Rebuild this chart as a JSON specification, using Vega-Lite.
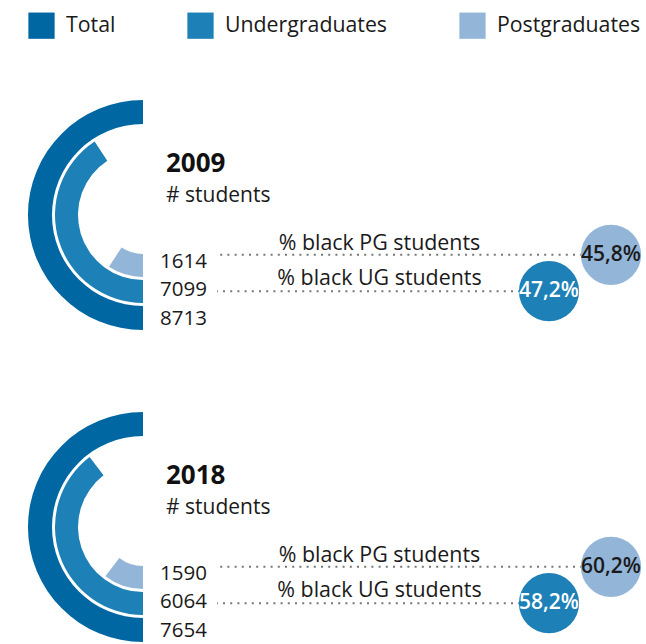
{
  "$schema": "https://vega.github.io/schema/vega-lite/v6.json",
  "padding": {"top": 12, "left": 0, "right": 0, "bottom": 0},
  "background": "white",
  "config": {
    "view": {"stroke": null},
    "font": "Open Sans",
    "locale": {"number": {"decimal": ",", "thousands": ".", "grouping": [3], "currency": ["", " €"]}},
    "legend": {
      "orient": "none", "legendX": 28, "legendY": -88, "direction": "horizontal",
      "symbolType": "square", "symbolSize": 690, "symbolStrokeWidth": 0, "symbolOpacity": 1,
      "labelFont": "Open Sans", "labelFontSize": 21.3, "labelColor": "#1a1a1a", "labelOffset": 11,
      "labelLimit": 300, "columnPadding": 71, "title": null
    }
  },
  "data": {"values": [
    {"year": 2009, "category": "Total", "count": 8713},
    {"year": 2009, "category": "Undergraduates", "count": 7099, "pct": 0.472, "metric": "% black UG students"},
    {"year": 2009, "category": "Postgraduates", "count": 1614, "pct": 0.458, "metric": "% black PG students"},
    {"year": 2018, "category": "Total", "count": 7654},
    {"year": 2018, "category": "Undergraduates", "count": 6064, "pct": 0.582, "metric": "% black UG students"},
    {"year": 2018, "category": "Postgraduates", "count": 1590, "pct": 0.602, "metric": "% black PG students"}
  ]},
  "facet": {"row": {"field": "year", "type": "ordinal", "header": {"labels": false, "title": null}}},
  "spacing": 82,
  "resolve": {"scale": {"theta": "independent"}},
  "spec": {
    "width": 286,
    "height": 230,
    "resolve": {"scale": {"x": "independent", "y": "independent"}},
    "layer": [
      {
        "transform": [{"filter": "datum.category === 'Total'"}],
        "mark": {"type": "arc", "radius": 115, "radius2": 91},
        "encoding": {
          "theta": {"field": "count", "type": "quantitative", "stack": null,
            "scale": {"zero": true, "nice": false, "range": [3.141592653589793, 6.283185307179586]}},
          "theta2": {"datum": 0},
          "color": {"field": "category", "type": "nominal",
            "scale": {"domain": ["Total", "Undergraduates", "Postgraduates"], "range": ["#0067a3", "#1d80b6", "#93b6d8"]}}
        }
      },
      {
        "transform": [{"filter": "datum.category === 'Undergraduates'"}],
        "mark": {"type": "arc", "radius": 88, "radius2": 65},
        "encoding": {
          "theta": {"field": "count", "type": "quantitative", "stack": null},
          "theta2": {"datum": 0},
          "color": {"field": "category", "type": "nominal"}
        }
      },
      {
        "transform": [{"filter": "datum.category === 'Postgraduates'"}],
        "mark": {"type": "arc", "radius": 62, "radius2": 39},
        "encoding": {
          "theta": {"field": "count", "type": "quantitative", "stack": null},
          "theta2": {"datum": 0},
          "color": {"field": "category", "type": "nominal"}
        }
      },
      {
        "transform": [{"filter": "datum.category === 'Total'"}],
        "mark": {"type": "text", "align": "left", "baseline": "alphabetic", "fontSize": 26, "fontWeight": "bold", "color": "#111"},
        "encoding": {
          "text": {"field": "year", "type": "nominal"},
          "x": {"value": 166},
          "y": {"value": 72}
        }
      },
      {
        "transform": [{"filter": "datum.category === 'Total'"}],
        "mark": {"type": "text", "align": "left", "baseline": "alphabetic", "fontSize": 21, "color": "#1a1a1a", "text": "# students"},
        "encoding": {
          "x": {"value": 166},
          "y": {"value": 102}
        }
      },
      {
        "mark": {"type": "text", "align": "left", "baseline": "alphabetic", "fontSize": 20.5, "color": "#1a1a1a"},
        "encoding": {
          "text": {"field": "count", "type": "quantitative", "format": "d"},
          "x": {"value": 160},
          "y": {"field": "category", "type": "nominal", "axis": null,
            "scale": {"type": "point", "padding": 0, "domain": ["Postgraduates", "Undergraduates", "Total"], "range": [167.5, 225.3]}}
        }
      },
      {
        "transform": [{"filter": "datum.category !== 'Total'"}],
        "mark": {"type": "text", "align": "center", "baseline": "alphabetic", "fontSize": 21.4, "color": "#1a1a1a"},
        "encoding": {
          "text": {"field": "metric", "type": "nominal"},
          "x": {"value": 379.5},
          "y": {"field": "category", "type": "nominal", "axis": null,
            "scale": {"type": "point", "padding": 0, "domain": ["Postgraduates", "Undergraduates"], "range": [150, 185]}}
        }
      },
      {
        "transform": [{"filter": "datum.category !== 'Total'"}],
        "layer": [
          {
            "mark": {"type": "rule", "color": "#777", "strokeWidth": 2, "strokeDash": [2, 5.2]},
            "encoding": {
              "x2": {"value": 217}
            }
          },
          {
            "mark": {"type": "point", "filled": true, "shape": "circle", "size": 3632, "opacity": 1},
            "encoding": {
              "color": {"field": "category", "type": "nominal"}
            }
          },
          {
            "mark": {"type": "text", "align": "center", "baseline": "middle", "fontSize": 21, "fontWeight": 600},
            "encoding": {
              "text": {"field": "pct", "type": "quantitative", "format": ".1%"},
              "color": {"condition": {"test": "datum.category === 'Undergraduates'", "value": "white"}, "value": "#1a1a1a"}
            }
          }
        ],
        "encoding": {
          "x": {"field": "category", "type": "nominal", "axis": null,
            "scale": {"type": "point", "padding": 0, "domain": ["Postgraduates", "Undergraduates"], "range": [611, 549]}},
          "y": {"field": "category", "type": "nominal", "axis": null,
            "scale": {"type": "point", "padding": 0, "domain": ["Postgraduates", "Undergraduates"], "range": [154.8, 191.2]}}
        }
      }
    ]
  }
}
